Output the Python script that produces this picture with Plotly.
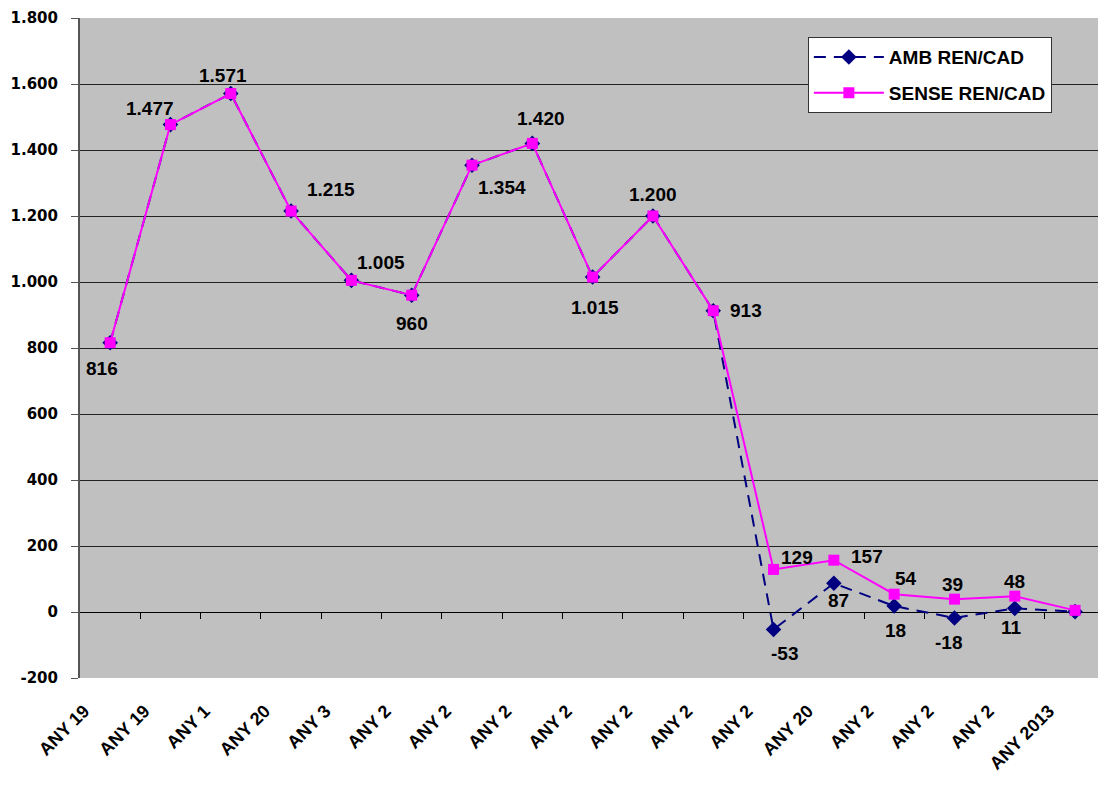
import plotly.graph_objects as go

# Category tick labels (as printed under the axis)
x_labels = ["ANY 19", "ANY 19", "ANY 1", "ANY 20", "ANY 3", "ANY 2", "ANY 2", "ANY 2",
            "ANY 2", "ANY 2", "ANY 2", "ANY 2", "ANY 20", "ANY 2", "ANY 2", "ANY 2", "ANY 2013"]

# Series values
amb_ren_cad = [816, 1477, 1571, 1215, 1005, 960, 1354, 1420, 1015, 1200, 913,
               -53, 87, 18, -18, 11, 1]
sense_ren_cad = [816, 1477, 1571, 1215, 1005, 960, 1354, 1420, 1015, 1200, 913,
                 129, 157, 54, 39, 48, 5]

# Y-axis ticks
y_ticks = [-200, 0, 200, 400, 600, 800, 1000, 1200, 1400, 1600, 1800]

x_idx = list(range(len(x_labels)))


def fmt(v):
    return f"{v:,}".replace(",", ".")


# Label offsets in pixels (dx, dy) for each value label
sense_offsets = [(-8, -26), (-20, 16), (-8, 18), (40, 22), (30, 18), (0, -28), (30, -22),
                 (9, 25), (2, -30), (0, 22), (33, 0), (23, 12), (33, 4), (12, 16),
                 (-2, 15), (0, 15), (35, 19)]
amb_offsets = {11: (11, -24), 12: (5, -17), 13: (1, -24), 14: (-6, -25), 15: (-3, -19),
               16: (28, -21)}

fig = go.Figure()

fig.add_trace(go.Scatter(
    x=x_idx, y=amb_ren_cad, name="AMB REN/CAD", mode="lines+markers",
    legendgroup="amb",
    line=dict(color="#000080", width=2, dash="12px,8px"),
    marker=dict(symbol="diamond", size=12, color="#000080"),
))
fig.add_trace(go.Scatter(
    x=x_idx, y=sense_ren_cad, name="SENSE REN/CAD", mode="lines+markers",
    legendgroup="sense",
    line=dict(color="#FF00FF", width=2),
    marker=dict(symbol="square", size=11, color="#FF00FF"),
))

# Second x axis sitting on the zero line, carrying the category boundary ticks
fig.add_trace(go.Scatter(x=[0], y=[0], xaxis="x2", mode="markers",
                         marker=dict(opacity=0), showlegend=False, hoverinfo="skip"))

label_font = dict(family="Liberation Sans, Arial", size=19, color="black")
annotations = []
for i, v in enumerate(sense_ren_cad):
    dx, dy = sense_offsets[i]
    annotations.append(dict(x=i, y=v, text=f"<b>{fmt(v)}</b>", showarrow=False,
                            xshift=dx, yshift=dy, font=label_font))
for i, (dx, dy) in amb_offsets.items():
    v = amb_ren_cad[i]
    annotations.append(dict(x=i, y=v, text=f"<b>{fmt(v)}</b>", showarrow=False,
                            xshift=dx, yshift=dy, font=label_font))

x_range = [-0.5, 16.38]
y_zero_pos = (0 - y_ticks[0]) / (y_ticks[-1] - y_ticks[0])

fig.update_layout(
    width=1098, height=787,
    margin=dict(l=80, r=0, t=18, b=109),
    paper_bgcolor="white", plot_bgcolor="#C0C0C0",
    showlegend=True,
    legend=dict(x=0.715, y=0.971, xanchor="left", yanchor="top",
                bgcolor="white", bordercolor="#333333", borderwidth=1,
                font=dict(family="Liberation Sans, Arial", size=19, color="black",
                          weight="bold"),
                itemwidth=70, tracegroupgap=8),
    annotations=annotations,
    xaxis=dict(range=x_range, tickmode="array", tickvals=x_idx,
               ticktext=[f"<b>{t}</b>" for t in x_labels], tickangle=-45,
               tickfont=dict(family="Liberation Sans, Arial", size=18, color="black"),
               showgrid=False, zeroline=False, showline=False, ticks="",
               ticklabelshift=-26, ticklabelstandoff=18),
    xaxis2=dict(range=x_range, overlaying="x", anchor="free", position=y_zero_pos,
                tickmode="array", tickvals=[i + 0.5 for i in x_idx[:-1]], ticktext=[""] * 16,
                ticks="outside", ticklen=6, tickcolor="black", tickwidth=1,
                showgrid=False, zeroline=False, showline=False),
    yaxis=dict(range=[y_ticks[0], y_ticks[-1]], tickmode="array", tickvals=y_ticks,
               ticktext=[f"<b>{fmt(t)}</b>" for t in y_ticks],
               tickfont=dict(family="DejaVu Sans", size=15, color="black"),
               showgrid=True, gridcolor="#222222", gridwidth=1,
               zeroline=True, zerolinecolor="black", zerolinewidth=1,
               showline=True, linecolor="#555555", linewidth=2,
               ticks="outside", ticklen=7, tickcolor="#555555",
               ticklabelstandoff=10),
)

fig.write_html("out.html")
